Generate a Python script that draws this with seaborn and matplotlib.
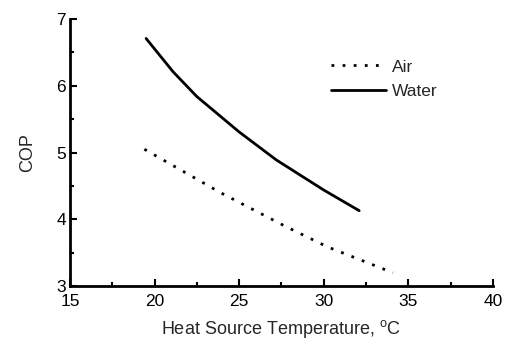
import matplotlib
matplotlib.use("Agg")
import matplotlib.pyplot as plt
import pandas as pd
import seaborn as sns

# values
water_temp = [19.5, 21.1, 22.5, 25.0, 27.2, 30.0, 32.1]
water_cop = [6.71, 6.21, 5.84, 5.31, 4.89, 4.44, 4.13]
air_temp = [19.4, 23.9, 27.7, 30.2, 32.6, 34.1]
air_cop = [5.05, 4.40, 3.90, 3.59, 3.35, 3.20]

df = pd.concat([
    pd.DataFrame({"temp": air_temp, "cop": air_cop, "Source": "Air"}),
    pd.DataFrame({"temp": water_temp, "cop": water_cop, "Source": "Water"}),
])

sns.set_style("ticks")
plt.rcParams["font.family"] = ["Liberation Sans", "DejaVu Sans"]
plt.rcParams["mathtext.fontset"] = "custom"
plt.rcParams["mathtext.rm"] = "Liberation Sans"

fig = plt.figure(figsize=(5.07, 3.41), dpi=100)
ax = fig.add_axes([0.138, 0.161, 0.834, 0.783])

sns.lineplot(data=df, x="temp", y="cop", style="Source", color="black",
             dashes={"Air": (1, 3), "Water": ""}, linewidth=2, ax=ax,
             sort=False, estimator=None)

ax.set_xlim(15, 40)
ax.set_ylim(3, 7)
ax.set_xticks([15, 20, 25, 30, 35, 40])
ax.set_yticks([3, 4, 5, 6, 7])
ax.set_xticks([17.5, 22.5, 27.5, 32.5, 37.5], minor=True)
ax.set_yticks([3.5, 4.5, 5.5, 6.5], minor=True)
ax.tick_params(which="both", direction="in", width=1.5, colors="black",
               labelsize=12.5)
ax.tick_params(axis="x", pad=6)
ax.tick_params(axis="y", pad=3)
ax.tick_params(which="major", length=5)
ax.tick_params(which="minor", length=3)
for s in ["left", "bottom"]:
    ax.spines[s].set_linewidth(2)
    ax.spines[s].set_color("black")
sns.despine(ax=ax)

ax.set_xlabel("Heat Source Temperature, $^{\\mathrm{o}}$C", fontsize=13, labelpad=6)
ax.set_ylabel("COP", fontsize=13, labelpad=14)

ax.legend(frameon=False, loc="upper left", bbox_to_anchor=(0.6, 0.875),
          fontsize=12.5, handlelength=3.2, handletextpad=0.35, labelspacing=0.55,
          borderaxespad=0)

fig.savefig("out.png", dpi=100)
